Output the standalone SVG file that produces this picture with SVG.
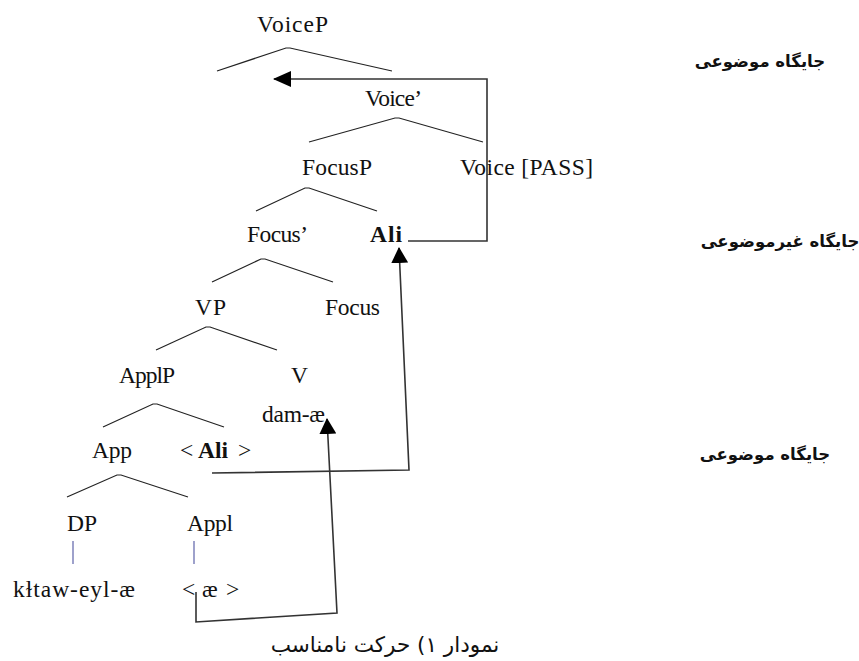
<svg xmlns="http://www.w3.org/2000/svg" width="859" height="661" viewBox="0 0 859 661">
<defs>
<style>
.t{font-family:"Liberation Serif","Times New Roman",serif;font-size:23.5px;fill:#111}
.b{font-weight:bold}
.fa{font-family:"DejaVu Sans","Noto Sans",sans-serif;fill:#111}
.lab{font-size:16.5px;font-weight:bold}
.cap{font-size:21.5px}
.br{stroke:#222;stroke-width:1.2;fill:none}
.bar{stroke:#6a6fb0;stroke-width:1.3}
.mv{stroke:#333;stroke-width:1.6;fill:none}
</style>
<marker id="ah" viewBox="0 0 18 16" refX="17" refY="8" markerWidth="18" markerHeight="16" markerUnits="userSpaceOnUse" orient="auto">
<path d="M0,0 L18,8 L0,16 z" fill="#000"/>
</marker>
<marker id="ah2" viewBox="0 0 16 17" refX="15" refY="8.5" markerWidth="16" markerHeight="17" markerUnits="userSpaceOnUse" orient="auto">
<path d="M0,0 L16,8.5 L0,17 z" fill="#000"/>
</marker>
</defs>
<rect width="859" height="661" fill="#fff"/>

<g id="branches">
<polyline class="br" points="217,71 286,48 290,48 392,71"/>
<polyline class="br" points="309,142 395,118 399,118 483,142"/>
<polyline class="br" points="256,211 305,188 309,188 377,211"/>
<polyline class="br" points="212,282 261,259 265,259 333,282"/>
<polyline class="br" points="156,350 206,327 210,327 277,350"/>
<polyline class="br" points="103,427 153,404 157,404 224,427"/>
<polyline class="br" points="67,497 117,475 121,475 188,497"/>
<line class="bar" x1="73" y1="541" x2="73" y2="564"/>
<line class="bar" x1="194" y1="541" x2="194" y2="564"/>
</g>

<g id="n-voicep"><text class="t" x="257" y="32" textLength="71">VoiceP</text></g>
<g id="n-voicebar"><text class="t" x="365" y="106" textLength="57">Voice’</text></g>
<g id="n-focusp"><text class="t" x="302" y="175" textLength="70">FocusP</text></g>
<g id="n-voice"><text class="t" x="460" y="175" textLength="133">Voice [PASS]</text></g>
<g id="n-focusbar"><text class="t" x="247" y="242" textLength="61">Focus’</text></g>
<g id="n-ali"><text class="t b" x="370" y="242" textLength="32">Ali</text></g>
<g id="n-vp"><text class="t" x="195" y="315" textLength="31">VP</text></g>
<g id="n-focus"><text class="t" x="325" y="315" textLength="55">Focus</text></g>
<g id="n-applp"><text class="t" x="119" y="383" textLength="56">ApplP</text></g>
<g id="n-v"><text class="t" x="291" y="383" textLength="17">V</text></g>
<g id="n-dam"><text class="t" x="262" y="422" textLength="63">dam-æ</text></g>
<g id="n-app"><text class="t" x="92" y="458" textLength="40">App</text></g>
<g id="n-ali-trace"><text class="t" x="180" y="458">&lt;<tspan class="b" x="198">Ali</tspan><tspan x="238">&gt;</tspan></text></g>
<g id="n-dp"><text class="t" x="67" y="531" textLength="30">DP</text></g>
<g id="n-appl"><text class="t" x="187" y="531" textLength="46">Appl</text></g>
<g id="n-kitaw"><text class="t" x="13" y="597" textLength="122">kɫtaw-eyl-æ</text></g>
<g id="n-ae-trace"><text class="t" x="182" y="597">&lt;<tspan x="202">æ</tspan><tspan x="226">&gt;</tspan></text></g>

<g id="labels">
<text class="fa lab" x="760" y="67" text-anchor="middle" direction="rtl">جایگاه موضوعی</text>
<text class="fa lab" x="780" y="247" text-anchor="middle" direction="rtl">جایگاه غیرموضوعی</text>
<text class="fa lab" x="765" y="460" text-anchor="middle" direction="rtl">جایگاه موضوعی</text>
<text class="fa cap" x="385" y="652" text-anchor="middle" direction="rtl">نمودار ۱) حرکت نامناسب</text>
</g>

<g id="connectors">
<polyline class="mv" points="408,241 487,241 487,79 274,79" marker-end="url(#ah)"/>
<polyline class="mv" points="212,473 409,470 399,248" marker-end="url(#ah2)"/>
<polyline class="mv" points="196,592 196,622 337,613 327,419" marker-end="url(#ah2)"/>
</g>
</svg>
